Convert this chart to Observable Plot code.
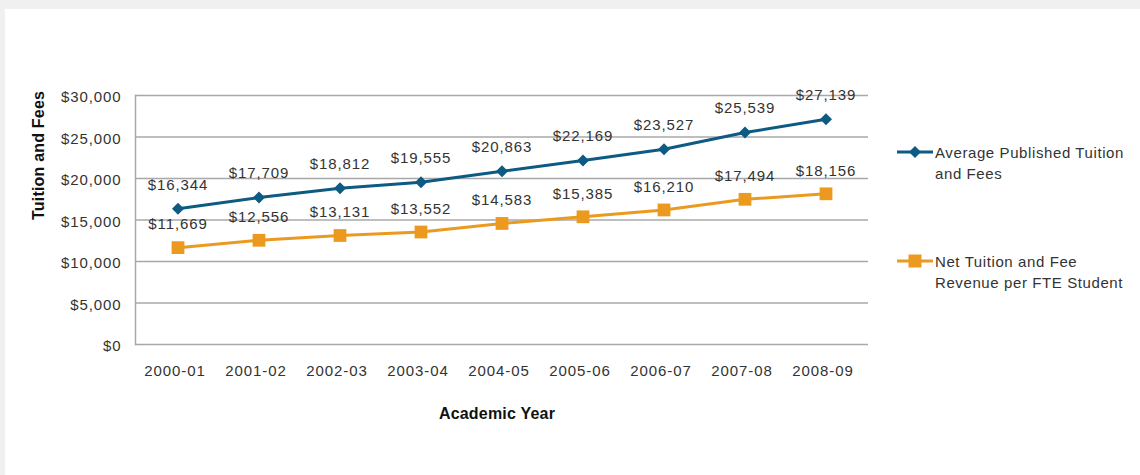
<!DOCTYPE html>
<html>
<head>
<meta charset="utf-8">
<script src="https://cdn.jsdelivr.net/npm/d3@7"></script>
<script src="https://cdn.jsdelivr.net/npm/@observablehq/plot@0.6"></script>
<style>
  html, body { margin: 0; padding: 0; background: #eff0ef; width: 1140px; height: 475px; overflow: hidden; }
  #panel { position: absolute; left: 5px; top: 9px; width: 1135px; height: 466px; background: #fff; }
  #chart { position: absolute; left: 0; top: 0; }
  #chart svg { font-family: "Liberation Sans", Arial, sans-serif; }
  #chart svg text { letter-spacing: 0.9px; }
  #chart svg text.title { letter-spacing: 0.2px; }
  .legend { position: absolute; left: 890px; font-family: "Liberation Sans", Arial, sans-serif; font-size: 15px; color: #333; line-height: 21px; letter-spacing: 0.6px; }
  .legend .item { position: absolute; left: 0; display: flex; align-items: flex-start; width: 250px; }
  .legend svg { flex: none; margin-top: 3px; }
</style>
</head>
<body>
<div id="panel">
  <div id="chart"></div>
  <div class="legend">
    <div class="item" id="leg1"></div>
    <div class="item" id="leg2"></div>
  </div>
</div>
<script>
const years = ["2000-01","2001-02","2002-03","2003-04","2004-05","2005-06","2006-07","2007-08","2008-09"];
const publishedTuition = [16344, 17709, 18812, 19555, 20863, 22169, 23527, 25539, 27139];
const netTuition = [11669, 12556, 13131, 13552, 14583, 15385, 16210, 17494, 18156];
const yTicks = [0, 5000, 10000, 15000, 20000, 25000, 30000];
const seriesNames = ["Average Published Tuition and Fees", "Net Tuition and Fee Revenue per FTE Student"];
const xTitle = "Academic Year";
const yTitle = "Tuition and Fees";

const blue = "#0d5a83";
const orange = "#eb9a1f";
const textColor = "#333";
const gridColor = "#a8a8a8";

const pub = years.map((y, i) => ({year: y, value: publishedTuition[i]}));
const net = years.map((y, i) => ({year: y, value: netTuition[i]}));
const money = d => "$" + d3.format(",")(d);

const plot = Plot.plot({
  width: 1135,
  height: 466,
  marginLeft: 130,
  marginRight: 272,
  marginTop: 86,
  marginBottom: 131,
  style: {fontFamily: "Liberation Sans, Arial, sans-serif", color: textColor, background: "transparent"},
  x: {type: "band", domain: years, padding: 0},
  y: {domain: [0, 30000]},
  marks: [
    Plot.ruleY(yTicks, {stroke: gridColor, strokeWidth: 1.5}),
    Plot.frame({anchor: "left", stroke: gridColor, strokeWidth: 1.5}),
    Plot.axisY({ticks: yTicks, tickFormat: money, tickSize: 0, tickPadding: 14, fontSize: 15, dy: 2, label: null, fill: textColor}),
    Plot.axisX({tickSize: 0, tickPadding: 21, fontSize: 15, dx: -3, label: null, fill: textColor}),
    Plot.text([yTitle], {frameAnchor: "left", rotate: -90, dx: -97, text: d => d, fontSize: 16, fontWeight: "bold", fill: "#111", className: "title"}),
    Plot.text([xTitle], {frameAnchor: "bottom", dy: 74, dx: -5, text: d => d, fontSize: 16, fontWeight: "bold", fill: "#111", className: "title"}),
    Plot.line(pub, {x: "year", y: "value", stroke: blue, strokeWidth: 3}),
    Plot.line(net, {x: "year", y: "value", stroke: orange, strokeWidth: 3}),
    Plot.dot(pub, {x: "year", y: "value", symbol: "diamond2", r: 5.4, fill: blue, stroke: "none"}),
    Plot.dot(net, {x: "year", y: "value", symbol: "square", r: 7.2, fill: orange, stroke: "none"}),
    Plot.text(pub, {x: "year", y: "value", text: d => money(d.value), dy: -24, fontSize: 15, fill: textColor}),
    Plot.text(net, {x: "year", y: "value", text: d => money(d.value), dy: -23, fontSize: 15, fill: textColor})
  ]
});
document.getElementById("chart").appendChild(plot);
plot.querySelectorAll("g.title text, g[class*='title'] text").forEach(t => t.setAttribute("class", "title"));

function swatch(color, kind) {
  const s = d3.create("svg").attr("width", 40).attr("height", 14);
  s.append("line").attr("x1", 2).attr("x2", 38).attr("y1", 7).attr("y2", 7).attr("stroke", color).attr("stroke-width", 3);
  if (kind === "diamond") s.append("path").attr("d", "M20,1L26,7L20,13L14,7Z").attr("fill", color);
  else s.append("rect").attr("x", 13.5).attr("y", 0.5).attr("width", 13).attr("height", 13).attr("fill", color);
  return s.node();
}
const leg1 = document.getElementById("leg1");
const leg2 = document.getElementById("leg2");
leg1.style.top = "133px";
leg2.style.top = "242px";
leg1.appendChild(swatch(blue, "diamond"));
leg2.appendChild(swatch(orange, "square"));
const t1 = document.createElement("div"); t1.textContent = seriesNames[0]; t1.style.width = "205px";
const t2 = document.createElement("div"); t2.textContent = seriesNames[1]; t2.style.width = "205px";
leg1.appendChild(t1); leg2.appendChild(t2);
</script>
</body>
</html>
